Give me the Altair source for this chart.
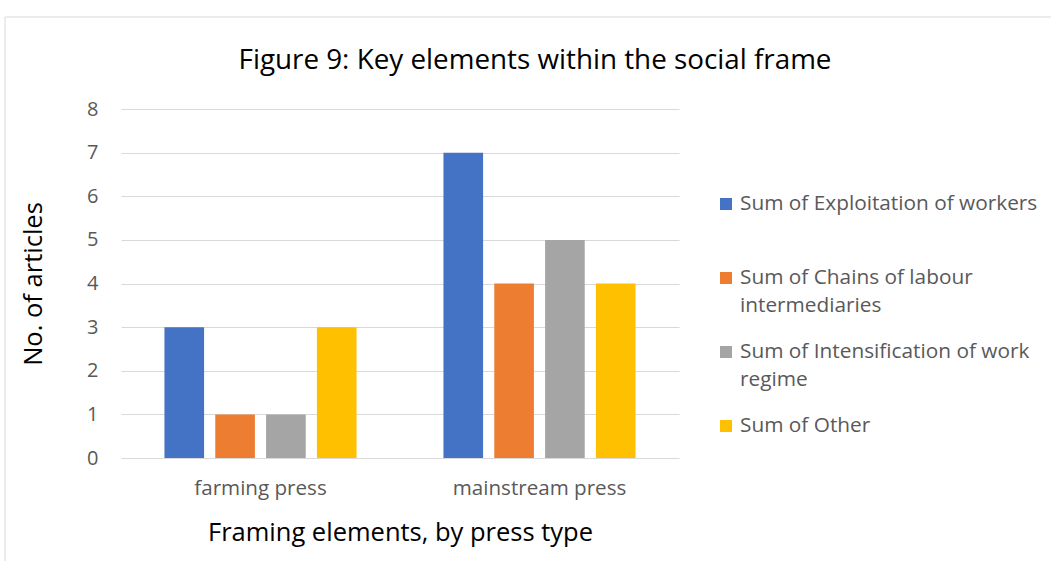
import altair as alt
import pandas as pd

# Chart values
press_types = ["farming press", "mainstream press"]
series = [
    "Sum of Exploitation of workers",
    "Sum of Chains of labour intermediaries",
    "Sum of Intensification of work regime",
    "Sum of Other",
]
legend_labels = [
    "Sum of Exploitation of workers",
    "Sum of Chains of labour\nintermediaries",
    "Sum of Intensification of work\nregime",
    "Sum of Other",
]
farming_counts = [3, 1, 1, 3]
mainstream_counts = [7, 4, 5, 4]
colors = ["#4472C4", "#ED7D31", "#A5A5A5", "#FFC000"]
y_ticks = [0, 1, 2, 3, 4, 5, 6, 7, 8]

W, H = 558, 349
TEXT_GRAY = "#595959"
LINE_GRAY = "#D9D9D9"
FONT = "Open Sans"

rows = []
for press, counts in zip(press_types, [farming_counts, mainstream_counts]):
    for s, c in zip(series, counts):
        rows.append({"press": press, "series": s, "count": c})
bars_df = pd.DataFrame(rows)

legend_df = pd.DataFrame({
    "series": series,
    "label": legend_labels,
    "rank": list(range(len(series))),
})

color_scale = alt.Scale(domain=series, range=colors)

bars = alt.Chart(bars_df).mark_bar().encode(
    x=alt.X(
        "press:N",
        sort=press_types,
        scale=alt.Scale(paddingInner=0, paddingOuter=0),
        axis=alt.Axis(
            title="Framing elements, by press type",
            labelAngle=0,
            labelFontSize=20.6,
            domain=False,
            ticks=False,
            labelPadding=20,
            titlePadding=22,
        ),
    ),
    xOffset=alt.XOffset(
        "series:N",
        sort=series,
        scale=alt.Scale(paddingInner=0.22, paddingOuter=0.855),
    ),
    y=alt.Y(
        "count:Q",
        scale=alt.Scale(domain=[0, 8]),
        axis=alt.Axis(
            title="No. of articles",
            values=y_ticks,
            domain=False,
            ticks=False,
            labelPadding=23,
            titlePadding=40,
        ),
    ),
    color=alt.Color("series:N", scale=color_scale, legend=None),
)

# Legend drawn beside the plot, one entry per series
legend_y = alt.Y(
    "rank:Q",
    scale=alt.Scale(domain=[-1.284, 3.432], reverse=True),
    axis=None,
)
legend_marks = alt.Chart(legend_df).mark_square(size=144, opacity=1).encode(
    x=alt.value(605),
    y=legend_y,
    color=alt.Color("series:N", scale=color_scale, legend=None),
)
legend_text = alt.Chart(legend_df).mark_text(
    align="left",
    baseline="line-top",
    lineBreak="\n",
    lineHeight=28,
    dy=-14,
    font=FONT,
    fontSize=20.8,
    color=TEXT_GRAY,
).encode(
    x=alt.value(619),
    y=legend_y,
    text="label:N",
)

# Chart frame: top and left edges
frame_src = pd.DataFrame({"edge": ["frame"]})
frame_top = alt.Chart(frame_src).mark_rule(color=LINE_GRAY, strokeWidth=1).encode(
    x=alt.value(-116), x2=alt.value(930), y=alt.value(-92)
)
frame_left = alt.Chart(frame_src).mark_rule(color=LINE_GRAY, strokeWidth=1).encode(
    x=alt.value(-116), y=alt.value(-92), y2=alt.value(452)
)

chart = alt.layer(
    frame_top, frame_left, bars, legend_marks, legend_text
).resolve_scale(
    y="independent"
).properties(
    width=W,
    height=H,
    background="#FFFFFF",
    padding={"left": 4, "top": 16, "right": 0, "bottom": 0},
    title=alt.TitleParams(
        text="Figure 9: Key elements within the social frame",
        font=FONT,
        fontSize=27.8,
        fontWeight="normal",
        color="#000000",
        anchor="middle",
        frame="group",
        dx=135,
        offset=-58,
    ),
).configure_view(
    stroke=None
).configure_axis(
    labelFont=FONT,
    labelFontSize=20,
    labelColor=TEXT_GRAY,
    titleFont=FONT,
    titleFontSize=25.5,
    titleFontWeight="normal",
    titleColor="#000000",
    grid=False,
).configure_axisY(
    grid=True,
    gridColor=LINE_GRAY,
    gridWidth=1,
)

chart.save("out.html", embed_options={"renderer": "svg", "actions": False})
